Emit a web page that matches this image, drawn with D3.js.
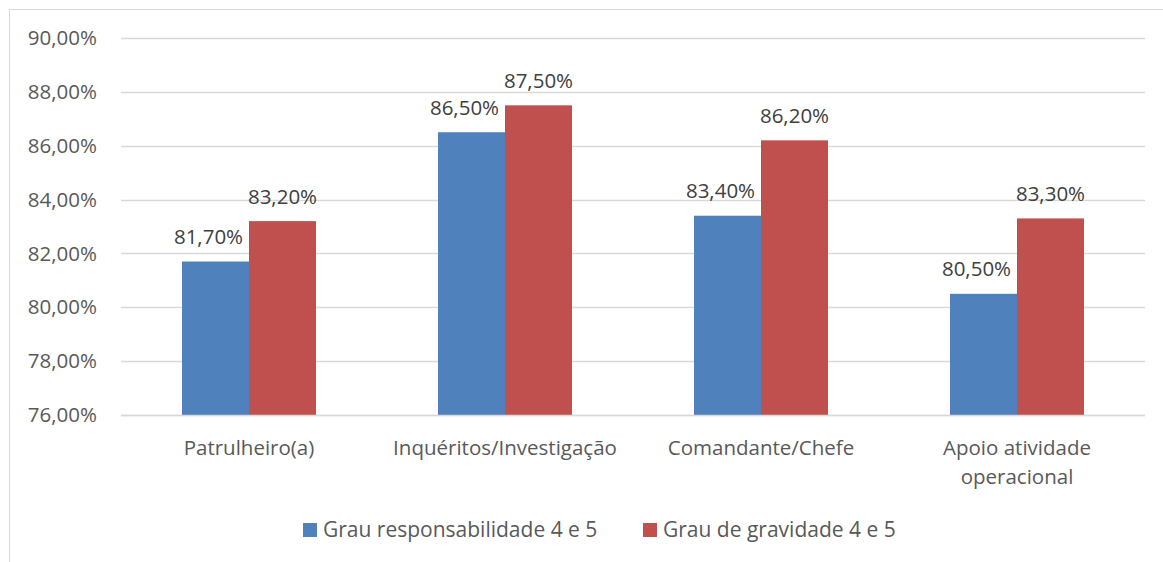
<!DOCTYPE html>
<html>
<head>
    <title>Grau responsabilidade / gravidade</title>
    <script src="https://cdn.jsdelivr.net/npm/d3@7/dist/d3.min.js"></script>
</head>
<style>
body { margin: 0; background: #fff; }
svg text { font-family: "Open Sans", sans-serif; }
</style>
<body>
<script>

var categories = ["Patrulheiro(a)", "Inquéritos/Investigação", "Comandante/Chefe", "Apoio atividade operacional"];
var seriesNames = ["Grau responsabilidade 4 e 5", "Grau de gravidade 4 e 5"];
var responsabilidade = [0.817, 0.865, 0.834, 0.805];
var gravidade = [0.832, 0.875, 0.862, 0.833];
var yTicks = [0.76, 0.78, 0.80, 0.82, 0.84, 0.86, 0.88, 0.90];
var colors = ["#4f81bd", "#c0504d"];

var w = 1163;
var h = 562;
var plotLeft = 121, plotRight = 1145, plotTop = 38, plotBottom = 415;
var fontSize = "20.5px";
var labelShift = [-7, 0];   // blue labels sit a bit left so they clear the red bar

var pt = d3.formatLocale({decimal: ",", thousands: ".", grouping: [3], currency: ["", ""]});
var fmt = pt.format(".2%");

var svg = d3.select("body").append("svg")
    .attr("width", w)
    .attr("height", h);

// outer frame (only left and top visible in the picture)
svg.append("rect")
    .attr("x", 9.5).attr("y", 9.5)
    .attr("width", w + 20).attr("height", h + 20)
    .attr("fill", "none")
    .attr("stroke", "#d9d9d9");

var yScale = d3.scaleLinear()
    .domain([0.76, 0.90])
    .range([plotBottom, plotTop]);

var x0 = d3.scaleBand()
    .domain(categories)
    .range([plotLeft, plotRight]);

var groupW = 134;
var x1 = d3.scaleBand()
    .domain(seriesNames)
    .range([0, groupW]);

// gridlines
svg.append("g")
    .selectAll("line")
    .data(yTicks)
    .enter()
    .append("line")
    .attr("x1", plotLeft)
    .attr("x2", plotRight)
    .attr("y1", function(d) { return Math.round(yScale(d)) + 0.5; })
    .attr("y2", function(d) { return Math.round(yScale(d)) + 0.5; })
    .attr("stroke", "#d9d9d9")
    .attr("stroke-width", 1.5);

// y tick labels
svg.append("g")
    .selectAll("text")
    .data(yTicks)
    .enter()
    .append("text")
    .attr("x", 97)
    .attr("y", function(d) { return yScale(d); })
    .attr("dy", "0.35em")
    .attr("text-anchor", "end")
    .attr("font-size", fontSize)
    .attr("fill", "#595959")
    .text(function(d) { return fmt(d); });

var data = [];
categories.forEach(function(c, i) {
    data.push({cat: c, s: seriesNames[0], si: 0, v: responsabilidade[i], col: colors[0]});
    data.push({cat: c, s: seriesNames[1], si: 1, v: gravidade[i], col: colors[1]});
});

function barX(d) {
    return x0(d.cat) + (x0.bandwidth() - groupW) / 2 + x1(d.s);
}

svg.append("g")
    .selectAll("rect")
    .data(data)
    .enter()
    .append("rect")
    .attr("x", barX)
    .attr("y", function(d) { return yScale(d.v); })
    .attr("width", x1.bandwidth())
    .attr("height", function(d) { return plotBottom - yScale(d.v); })
    .attr("fill", function(d) { return d.col; });

// redraw baseline over bars
svg.append("line")
    .attr("x1", plotLeft).attr("x2", plotRight)
    .attr("y1", plotBottom + 0.5).attr("y2", plotBottom + 0.5)
    .attr("stroke", "#d9d9d9")
    .attr("stroke-width", 1.5);

// value labels
svg.append("g")
    .selectAll("text")
    .data(data)
    .enter()
    .append("text")
    .attr("x", function(d) { return barX(d) + x1.bandwidth() / 2 + labelShift[d.si]; })
    .attr("y", function(d) { return yScale(d.v) - 17.5; })
    .attr("text-anchor", "middle")
    .attr("font-size", fontSize)
    .attr("fill", "#404040")
    .text(function(d) { return fmt(d.v); });

// category labels (wrapped)
var catLines = {
    "Patrulheiro(a)": ["Patrulheiro(a)"],
    "Inquéritos/Investigação": ["Inquéritos/Investigação"],
    "Comandante/Chefe": ["Comandante/Chefe"],
    "Apoio atividade operacional": ["Apoio atividade", "operacional"]
};
var catG = svg.append("g")
    .selectAll("text")
    .data(categories)
    .enter()
    .append("text")
    .attr("x", function(d) { return x0(d) + x0.bandwidth() / 2; })
    .attr("y", 455)
    .attr("text-anchor", "middle")
    .attr("font-size", fontSize)
    .attr("fill", "#595959");
catG.selectAll("tspan")
    .data(function(d) { return catLines[d]; })
    .enter()
    .append("tspan")
    .attr("x", function() { var p = d3.select(this.parentNode).datum(); return x0(p) + x0.bandwidth() / 2; })
    .attr("dy", function(d, i) { return i === 0 ? 0 : 29; })
    .text(function(d) { return d; });

// legend
var legendX = [303, 643];
var leg = svg.append("g")
    .selectAll("g")
    .data(seriesNames)
    .enter()
    .append("g")
    .attr("transform", function(d, i) { return "translate(" + legendX[i] + ",523)"; });
leg.append("rect")
    .attr("width", 14)
    .attr("height", 14)
    .attr("fill", function(d, i) { return colors[i]; });
leg.append("text")
    .attr("x", 20)
    .attr("y", 7)
    .attr("dy", "0.35em")
    .attr("font-size", "21px")
    .attr("fill", "#595959")
    .text(function(d) { return d; });

</script>
</body>
</html>
